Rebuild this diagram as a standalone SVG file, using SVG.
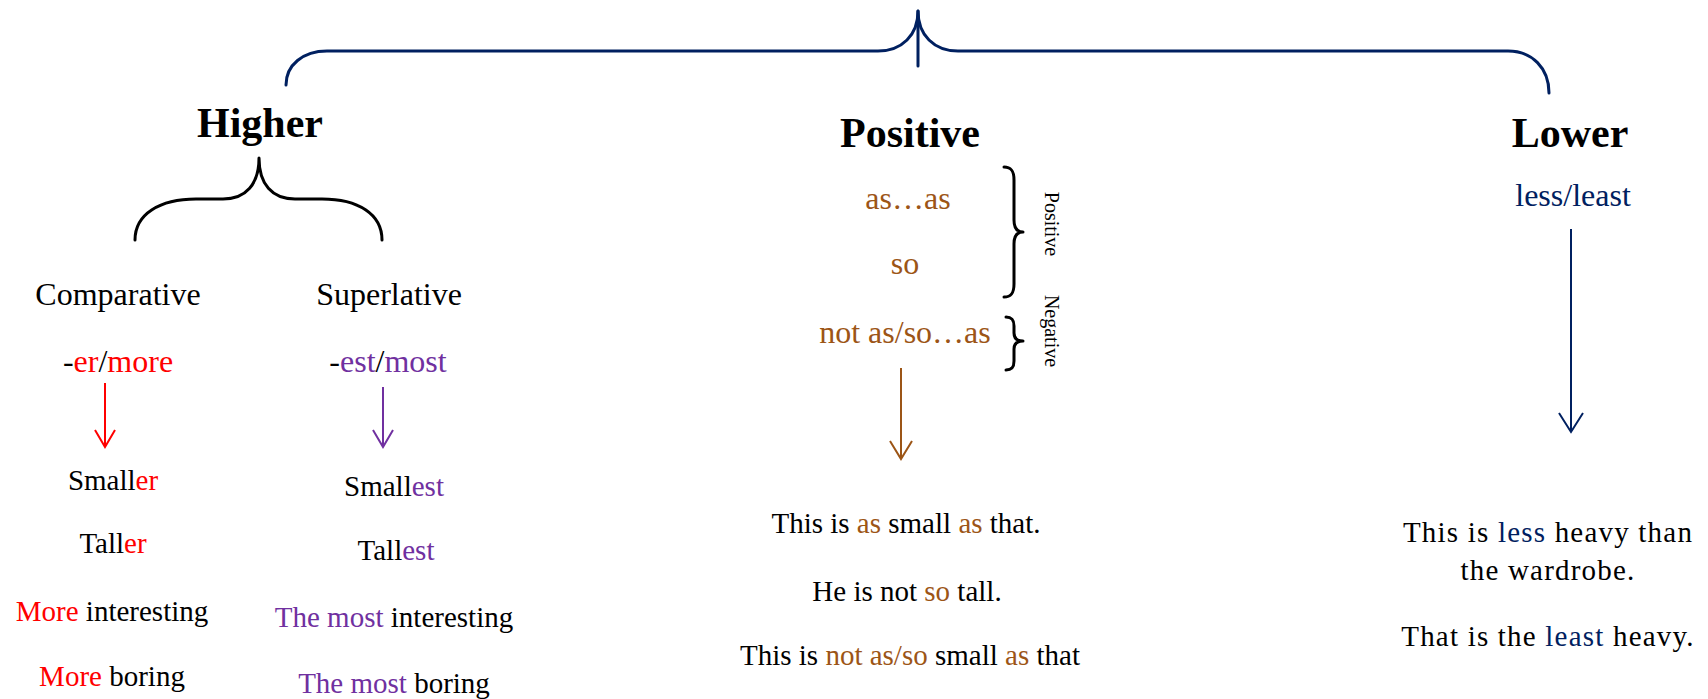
<svg xmlns="http://www.w3.org/2000/svg" width="1708" height="699" viewBox="0 0 1708 699">
<style>
text{font-family:"Liberation Serif","Times New Roman",serif;font-size:29px;fill:#000;text-anchor:middle}
.h{font-weight:bold;font-size:42px}
.lb{font-size:32px}
.sm{font-size:20px}
.r{fill:#FF0000}.p{fill:#7030A0}.b{fill:#9C5516}.n{fill:#002060}
.brace{fill:none;stroke-width:3;stroke-linecap:round;stroke-linejoin:round}
.ar{fill:none;stroke-width:2}
</style>
<defs>
<marker id="mr" viewBox="-20 -13 22 26" refX="0" refY="0" markerWidth="22" markerHeight="26" markerUnits="userSpaceOnUse" orient="auto"><path d="M-17 -10 L0 0 L-17 10" fill="none" stroke="#FF0000" stroke-width="2"/></marker>
<marker id="mp" viewBox="-20 -13 22 26" refX="0" refY="0" markerWidth="22" markerHeight="26" markerUnits="userSpaceOnUse" orient="auto"><path d="M-17 -10 L0 0 L-17 10" fill="none" stroke="#7030A0" stroke-width="2"/></marker>
<marker id="mb" viewBox="-20 -13 22 26" refX="0" refY="0" markerWidth="22" markerHeight="26" markerUnits="userSpaceOnUse" orient="auto"><path d="M-18 -11 L0 0 L-18 11" fill="none" stroke="#9C5516" stroke-width="2"/></marker>
<marker id="mn" viewBox="-22 -14 24 28" refX="0" refY="0" markerWidth="24" markerHeight="28" markerUnits="userSpaceOnUse" orient="auto"><path d="M-19 -12 L0 0 L-19 12" fill="none" stroke="#002060" stroke-width="2"/></marker>
</defs>

<g id="connectors">
<path class="brace" stroke="#002060" d="M286 85 C286 65 303 51 327 51 L878 51 C902 51 918 35 918 11 C918 35 934 51 958 51 L1508 51 C1532 51 1549 68 1549 93"/>
<path class="brace" stroke="#002060" d="M918 11 L918 66"/>
<path class="brace" stroke="#000" d="M135 240 C135 214 160 199 196 199 L223 199 C246 199 259 184 259 158 C259 184 272 199 295 199 L322 199 C358 199 382 214 382 240"/>
<path class="brace" stroke="#000" d="M1004 167 C1012 167 1014 172 1014 180 L1014 220 C1014 228 1017 232 1023 232 C1017 232 1014 236 1014 244 L1014 284 C1014 292 1012 297 1004 297"/>
<path class="brace" stroke="#000" d="M1006 317 C1012 317 1014 320 1014 326 L1014 333 C1014 338 1017 341 1023 341 C1017 341 1014 344 1014 349 L1014 361 C1014 367 1012 370 1006 370"/>
<line class="ar" stroke="#FF0000" x1="105" y1="383" x2="105" y2="447" marker-end="url(#mr)"/>
<line class="ar" stroke="#7030A0" x1="383" y1="387" x2="383" y2="447" marker-end="url(#mp)"/>
<line class="ar" stroke="#9C5516" x1="901" y1="368" x2="901" y2="459" marker-end="url(#mb)"/>
<line class="ar" stroke="#002060" x1="1571" y1="229" x2="1571" y2="432" marker-end="url(#mn)"/>
</g>

<g id="higher">
<text class="h" x="260" y="137">Higher</text>
</g>
<g id="comparative">
<text class="lb" x="118" y="305">Comparative</text>
<text class="lb" x="118" y="372">-<tspan class="r">er</tspan>/<tspan class="r">more</tspan></text>
<text x="113" y="490">Small<tspan class="r">er</tspan></text>
<text x="113" y="553">Tall<tspan class="r">er</tspan></text>
<text x="112" y="621"><tspan class="r">More</tspan> interesting</text>
<text x="112" y="686"><tspan class="r">More</tspan> boring</text>
</g>
<g id="superlative">
<text class="lb" x="389" y="305">Superlative</text>
<text class="lb" x="388" y="372">-<tspan class="p">est</tspan>/<tspan class="p">most</tspan></text>
<text x="394" y="496">Small<tspan class="p">est</tspan></text>
<text x="396" y="560">Tall<tspan class="p">est</tspan></text>
<text x="394" y="627"><tspan class="p">The most</tspan> interesting</text>
<text x="394" y="693"><tspan class="p">The most</tspan> boring</text>
</g>
<g id="positive">
<text class="h" x="910" y="147">Positive</text>
<text class="b lb" x="908" y="209">as…as</text>
<text class="b lb" x="905" y="274">so</text>
<text class="b lb" x="905" y="343">not as/so…as</text>
<text class="sm" transform="translate(1045,224) rotate(90)">Positive</text>
<text class="sm" transform="translate(1045,331) rotate(90)">Negative</text>
<text x="906" y="533">This is <tspan class="b">as</tspan> small <tspan class="b">as</tspan> that.</text>
<text x="907" y="601">He is not <tspan class="b">so</tspan> tall.</text>
<text x="910" y="665">This is <tspan class="b">not as/so</tspan> small <tspan class="b">as</tspan> that</text>
</g>
<g id="lower">
<text class="h" x="1570" y="147">Lower</text>
<text class="n lb" x="1573" y="206">less/least</text>
<text x="1548" y="542" letter-spacing="1.2">This is <tspan class="n">less</tspan> heavy than</text>
<text x="1548" y="580" letter-spacing="1.2">the wardrobe.</text>
<text x="1548" y="646" letter-spacing="1.2">That is the <tspan class="n">least</tspan> heavy.</text>
</g>
</svg>
